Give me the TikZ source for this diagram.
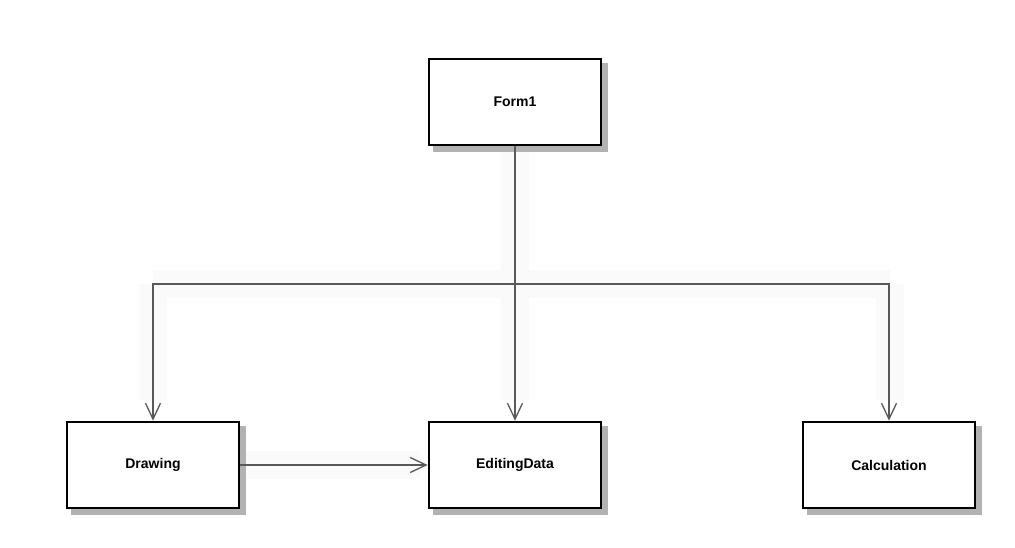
\documentclass[tikz,border=0pt]{standalone}
\usepackage{fontspec}
\setmainfont{Liberation Sans}
\usetikzlibrary{arrows.meta}
\begin{document}
\begin{tikzpicture}[x=1pt,y=-1pt,
  classbox/.style={draw=black,line width=2.6pt,fill=white,minimum width=172pt,minimum height=86pt,
    inner sep=0pt,font=\bfseries\fontsize{14}{16}\selectfont},
  shade/.style={fill=black!30,draw=none},
  link/.style={draw=black!65,line width=1.4pt},
  dep/.style={link,-{Straight Barb[length=16pt,width=15pt,line width=1.3pt]}},
  halo/.style={draw=black!2,line width=28pt}
]
\useasboundingbox[fill=white] (0,0) rectangle (1015,547);

% faint bands behind the connectors
\draw[halo] (515,147) -- (515,400);
\draw[halo] (153,284) -- (890,284);
\draw[halo] (153,284) -- (153,400);
\draw[halo] (890,284) -- (890,400);
\draw[halo] (245,465) -- (420,465);

% drop shadows
\fill[shade] (433,63) rectangle (608,152);
\fill[shade] (71,426) rectangle (246,515);
\fill[shade] (433,426) rectangle (608,515);
\fill[shade] (807,426) rectangle (982,515);

% classes
\node[classbox] (form1) at (515,102) {Form1};
\node[classbox] (drawing) at (153,465) {Drawing};
\node[classbox] (editing) at (515,465) {EditingData};
\node[classbox] (calc) at (889,465) {Calculation};

% connectors
\coordinate (bus) at (515,284);
\draw[link] (form1.south) -- (bus);
\draw[dep] (bus) -| (drawing.north);
\draw[dep] (bus) -- (editing.north);
\draw[dep] (bus) -| (calc.north);
\draw[dep] (drawing.east) -- (editing.west);
\end{tikzpicture}
\end{document}
